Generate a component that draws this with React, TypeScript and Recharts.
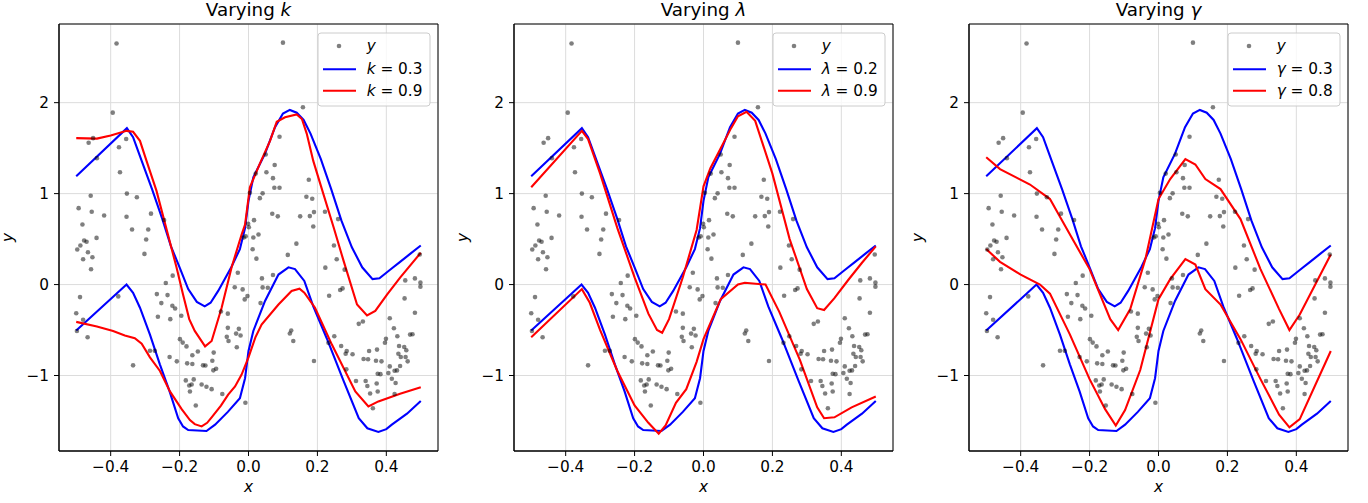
import React from 'react';
import {
  ComposedChart,
  Scatter,
  Line,
  XAxis,
  YAxis,
  CartesianGrid,
  ReferenceArea,
} from 'recharts';

// axis ticks
const X_TICKS = [-0.4, -0.2, 0, 0.2, 0.4];
const Y_TICKS = [-1, 0, 1, 2];
const X_DOMAIN = [-0.55, 0.55];
const Y_DOMAIN = [-1.83, 2.865];

// observed samples (x, y) - same in every panel
const samples: [number, number][] = [
  [-0.383, 2.65], [-0.394, 1.89], [-0.451, 1.61], [-0.464, 1.56], [-0.44, 1.39],
  [-0.376, 1.51], [-0.355, 1.6], [-0.373, 1.235], [-0.458, 0.977], [-0.493, 0.84],
  [-0.455, 0.8], [-0.419, 0.76], [-0.353, 1.0], [-0.324, 0.96], [-0.283, 0.78],
  [-0.354, 0.745], [-0.245, 0.71], [-0.482, 0.66], [-0.338, 0.606], [-0.291, 0.606],
  [-0.441, 0.513], [-0.477, 0.485], [-0.47, 0.47], [-0.488, 0.43], [-0.497, 0.385],
  [-0.466, 0.355], [-0.453, 0.3], [-0.48, 0.278], [-0.457, 0.168], [-0.297, 0.495],
  [-0.302, 0.337], [-0.378, -0.13], [-0.489, -0.138], [-0.5, -0.315], [-0.48, -0.387],
  [-0.498, -0.51], [-0.467, -0.58], [-0.335, -0.888], [-0.286, -0.727], [-0.272, -0.727],
  [-0.22, 0.098], [-0.24, 0.017], [-0.266, -0.105], [-0.235, -0.116], [-0.253, -0.204],
  [-0.221, -0.233], [-0.213, -0.263], [-0.263, -0.354], [-0.227, -0.38], [-0.195, -0.343],
  [-0.199, -0.6], [-0.191, -0.638], [-0.18, -0.68], [-0.229, -0.796], [-0.208, -0.844],
  [-0.178, -0.866], [-0.182, -1.054], [-0.172, -1.11], [-0.17, -1.175], [0.001, 0.63],
  [-0.008, 0.53], [-0.014, 0.517], [0.014, 0.517], [0.029, 0.55], [0.012, 0.388],
  [0.023, 0.285], [-0.031, 0.13], [-0.04, -0.03], [-0.017, -0.053], [-0.003, -0.127],
  [-0.011, -0.163], [0.039, 0.068], [0.041, -0.031], [0.056, -0.035], [0.035, -0.204],
  [0.071, 0.105], [0.114, 0.326], [0.139, 0.45], [0.124, -0.505], [0.12, -0.538],
  [0.13, -0.62], [-0.08, -0.296], [-0.06, -0.32], [-0.06, -0.476], [-0.063, -0.575],
  [-0.058, -0.62], [-0.028, -0.487], [-0.036, -0.539], [-0.023, -0.56], [-0.034, -0.69],
  [-0.147, -0.736], [-0.163, -0.778], [-0.101, -0.748], [-0.163, -0.873], [-0.132, -0.888],
  [-0.125, -0.89], [-0.105, -0.837], [-0.102, -0.943], [-0.094, -0.925], [-0.159, -1.043],
  [-0.165, -1.098], [-0.136, -1.098], [-0.122, -1.124], [-0.107, -1.15], [-0.076, -1.204],
  [-0.153, -1.33], [-0.009, -1.3], [0.1, 2.66], [0.158, 1.95], [0.09, 1.625],
  [0.05, 1.43], [0.076, 1.315], [0.052, 1.235], [0.071, 1.17], [0.021, 1.22],
  [0.075, 1.065], [0.09, 1.065], [0.041, 1.003], [0.033, 0.95], [0.004, 1.01],
  [0.069, 0.778], [0.085, 0.75], [0.15, 0.75], [0.016, 0.708], [-0.001, 0.668],
  [0.175, 1.153], [0.168, 0.966], [0.185, 0.944], [0.178, 0.753], [0.19, 0.797],
  [0.222, 0.8], [0.26, 0.72], [0.188, 0.639], [0.248, 0.43], [0.256, 0.278],
  [0.223, 0.186], [0.279, 0.164], [0.234, -0.123], [0.266, -0.06], [0.273, -0.042],
  [0.32, -0.432], [0.332, -0.406], [0.19, -0.84], [0.232, -0.641], [0.249, -0.568],
  [0.269, -0.675], [0.285, -0.73], [0.282, -0.76], [0.302, -0.767], [0.334, -0.818],
  [0.347, -0.822], [0.35, -0.73], [0.373, -0.715], [0.37, -0.837], [0.386, -0.844],
  [0.284, -0.932], [0.312, -1.06], [0.34, -1.06], [0.345, -1.116], [0.353, -1.197],
  [0.372, -1.087], [0.375, -1.175], [0.375, -0.98], [0.383, -0.985], [0.361, -1.36],
  [0.41, -0.37], [0.399, -0.597], [0.396, -0.64], [0.422, -0.48], [0.432, -0.568],
  [0.437, -0.675], [0.435, -0.76], [0.442, -0.796], [0.452, -0.686], [0.458, -0.723],
  [0.456, -0.796], [0.462, -0.844], [0.41, -0.9], [0.406, -0.972], [0.424, -0.947],
  [0.431, -0.944], [0.44, -0.895], [0.416, -1.035], [0.427, -1.083], [0.424, -1.204],
  [0.455, 0.046], [0.483, 0.068], [0.499, 0.021], [0.499, -0.023], [0.453, -0.152],
  [0.483, -0.31], [0.469, -0.55], [0.476, -0.546], [0.497, 0.33],
];

// blue reference fit (same in all panels)
const blueUpper: [number, number][] = [
  [-0.5, 1.19], [-0.353, 1.72], [-0.335, 1.62], [-0.31, 1.36], [-0.28, 1.05], [-0.25, 0.72],
  [-0.225, 0.42], [-0.2, 0.19], [-0.175, -0.05], [-0.15, -0.19], [-0.127, -0.24], [-0.11, -0.2],
  [-0.088, -0.07], [-0.05, 0.19], [-0.025, 0.39], [-0.01, 0.62], [0.0, 0.92], [0.014, 1.18],
  [0.048, 1.44], [0.077, 1.73], [0.1, 1.88], [0.12, 1.92], [0.14, 1.89], [0.16, 1.81],
  [0.18, 1.66], [0.21, 1.38], [0.24, 1.05], [0.27, 0.7], [0.3, 0.41], [0.33, 0.19],
  [0.36, 0.06], [0.38, 0.07], [0.41, 0.16], [0.44, 0.25], [0.47, 0.34], [0.5, 0.43],
];
const blueLower: [number, number][] = [
  [-0.5, -0.505], [-0.354, 0.0], [-0.335, -0.09], [-0.315, -0.255], [-0.286, -0.55],
  [-0.257, -0.88], [-0.229, -1.175], [-0.204, -1.47], [-0.19, -1.56], [-0.175, -1.6],
  [-0.122, -1.61], [-0.097, -1.54], [-0.06, -1.4], [-0.025, -1.25], [-0.01, -1.03],
  [0.0, -0.73], [0.014, -0.51], [0.048, -0.18], [0.087, 0.11], [0.116, 0.19], [0.135, 0.17],
  [0.162, 0.04], [0.188, -0.24], [0.227, -0.59], [0.276, -1.06], [0.32, -1.47], [0.345, -1.58],
  [0.377, -1.62], [0.4, -1.59], [0.416, -1.54], [0.46, -1.42], [0.5, -1.28],
];

// k = 0.9
const redUpperK: [number, number][] = [
  [-0.5, 1.61], [-0.44, 1.605], [-0.4, 1.64], [-0.354, 1.69], [-0.335, 1.68], [-0.315, 1.58],
  [-0.296, 1.36], [-0.267, 1.03], [-0.238, 0.61], [-0.209, 0.19], [-0.19, -0.11], [-0.172, -0.38],
  [-0.156, -0.51], [-0.126, -0.68], [-0.107, -0.62], [-0.078, -0.255], [-0.049, 0.19],
  [-0.02, 0.55], [-0.01, 0.66], [0.004, 1.07], [0.033, 1.33], [0.0625, 1.58], [0.082, 1.79],
  [0.106, 1.84], [0.14, 1.87], [0.155, 1.82], [0.169, 1.66], [0.188, 1.36], [0.217, 1.0],
  [0.247, 0.63], [0.276, 0.26], [0.315, -0.22], [0.344, -0.34], [0.368, -0.29], [0.402, -0.11],
  [0.44, 0.076], [0.5, 0.35],
];
const redLowerK: [number, number][] = [
  [-0.5, -0.41], [-0.44, -0.46], [-0.393, -0.51], [-0.359, -0.56], [-0.33, -0.59], [-0.31, -0.65],
  [-0.286, -0.8], [-0.257, -0.95], [-0.228, -1.175], [-0.194, -1.37], [-0.17, -1.49],
  [-0.156, -1.535], [-0.136, -1.56], [-0.12, -1.52], [-0.107, -1.46], [-0.08, -1.33],
  [-0.059, -1.21], [-0.039, -1.12], [-0.02, -0.99], [0.0, -0.8], [0.02, -0.58], [0.038, -0.44],
  [0.087, -0.22], [0.125, -0.07], [0.148, -0.045], [0.162, -0.09], [0.193, -0.255],
  [0.242, -0.66], [0.31, -1.175], [0.348, -1.34], [0.377, -1.285], [0.44, -1.2], [0.5, -1.13],
];

// lambda = 0.9
const redUpperLam: [number, number][] = [
  [-0.5, 1.07], [-0.353, 1.69], [-0.335, 1.6], [-0.3, 1.22], [-0.25, 0.62], [-0.2, 0.08],
  [-0.16, -0.32], [-0.135, -0.5], [-0.12, -0.53], [-0.1, -0.38], [-0.06, 0.08], [-0.02, 0.6],
  [0.0, 1.08], [0.02, 1.28], [0.05, 1.5], [0.08, 1.72], [0.1, 1.85], [0.125, 1.9],
  [0.15, 1.8], [0.2, 1.22], [0.25, 0.5], [0.3, -0.05], [0.33, -0.26], [0.35, -0.28],
  [0.38, -0.15], [0.42, 0.05], [0.46, 0.24], [0.5, 0.42],
];
const redLowerLam: [number, number][] = [
  [-0.5, -0.58], [-0.353, -0.05], [-0.33, -0.2], [-0.3, -0.5], [-0.25, -0.95], [-0.2, -1.33],
  [-0.16, -1.52], [-0.13, -1.64], [-0.11, -1.55], [-0.08, -1.3], [-0.05, -1.15], [-0.02, -0.85],
  [0.0, -0.6], [0.05, -0.16], [0.1, 0.0], [0.12, 0.02], [0.18, 0.0], [0.22, -0.3],
  [0.28, -0.83], [0.33, -1.35], [0.35, -1.47], [0.38, -1.46], [0.43, -1.35], [0.5, -1.23],
];

// gamma = 0.8
const redUpperGam: [number, number][] = [
  [-0.5, 1.4], [-0.46, 1.27], [-0.373, 1.1], [-0.315, 0.94], [-0.257, 0.55], [-0.2, 0.17],
  [-0.14, -0.38], [-0.117, -0.5], [-0.082, -0.27], [-0.038, 0.28], [0.0, 0.94], [0.034, 1.16],
  [0.078, 1.38], [0.107, 1.32], [0.136, 1.16], [0.18, 1.05], [0.238, 0.72], [0.296, 0.17],
  [0.35, -0.27], [0.38, -0.5], [0.41, -0.33], [0.5, 0.33],
];
const redLowerGam: [number, number][] = [
  [-0.5, 0.39], [-0.46, 0.25], [-0.4, 0.11], [-0.344, 0.0], [-0.315, -0.1], [-0.257, -0.55],
  [-0.2, -1.04], [-0.155, -1.37], [-0.124, -1.55], [-0.097, -1.38], [-0.053, -0.94], [0.0, -0.16],
  [0.034, 0.06], [0.078, 0.28], [0.107, 0.22], [0.136, -0.05], [0.18, -0.22], [0.238, -0.6],
  [0.296, -1.04], [0.35, -1.43], [0.38, -1.57], [0.41, -1.48], [0.5, -0.73],
];

const toXY = (pts: [number, number][]) => pts.map(([x, y]) => ({ x, y }));
const scatterData = toXY(samples);

const FONT = 'DejaVu Sans';
const PLOT_W = 379;
const PLOT_TOP = 24;
const PLOT_H = 427;
const Y_AXIS_W = 59;

const fmtX = (v: number) => (v < 0 ? '\u2212' + Math.abs(v).toFixed(1) : v.toFixed(1));
const fmtY = (v: number) => (v < 0 ? '\u2212' + Math.abs(v) : String(v));

const tickStyle = { fontSize: 15.3, fill: '#000', fontFamily: FONT };

const Dot = (props: any) => (
  <circle cx={props.cx} cy={props.cy} r={2.3} fill="#000" fillOpacity={0.5} />
);

const panels = [
  { sym: 'k', lo: '0.3', hi: '0.9', upper: redUpperK, lower: redLowerK, left: 59 },
  { sym: '\u03bb', lo: '0.2', hi: '0.9', upper: redUpperLam, lower: redLowerLam, left: 514 },
  { sym: '\u03b3', lo: '0.3', hi: '0.8', upper: redUpperGam, lower: redLowerGam, left: 969 },
];

function Panel({ left, upper, lower }: { left: number; upper: [number, number][]; lower: [number, number][] }) {
  return (
    <div style={{ position: 'absolute', left: left - Y_AXIS_W, top: 0 }}>
      <ComposedChart
        width={Y_AXIS_W + PLOT_W + 10}
        height={503}
        margin={{ top: PLOT_TOP, right: 10, bottom: 0, left: 0 }}
      >
        <CartesianGrid stroke="#dcdcdc" strokeWidth={1} />
        <XAxis
          type="number"
          dataKey="x"
          domain={X_DOMAIN}
          ticks={X_TICKS}
          tickFormatter={fmtX}
          allowDataOverflow
          height={503 - PLOT_TOP - PLOT_H}
          tickSize={5}
          tickMargin={5}
          tick={tickStyle}
          stroke="#000"
        />
        <YAxis
          type="number"
          dataKey="y"
          domain={Y_DOMAIN}
          ticks={Y_TICKS}
          tickFormatter={fmtY}
          allowDataOverflow
          width={Y_AXIS_W}
          tickSize={5}
          tickMargin={5}
          tick={tickStyle}
          stroke="#000"
        />
        <Scatter data={scatterData} dataKey="y" shape={Dot} isAnimationActive={false} />
        <Line data={toXY(blueUpper)} dataKey="y" type="linear" stroke="#0000ff" strokeWidth={2.1} dot={false} isAnimationActive={false} />
        <Line data={toXY(blueLower)} dataKey="y" type="linear" stroke="#0000ff" strokeWidth={2.1} dot={false} isAnimationActive={false} />
        <Line data={toXY(upper)} dataKey="y" type="linear" stroke="#ff0000" strokeWidth={2.1} dot={false} isAnimationActive={false} />
        <Line data={toXY(lower)} dataKey="y" type="linear" stroke="#ff0000" strokeWidth={2.1} dot={false} isAnimationActive={false} />
        <ReferenceArea
          x1={X_DOMAIN[0]}
          x2={X_DOMAIN[1]}
          y1={Y_DOMAIN[0]}
          y2={Y_DOMAIN[1]}
          fill="none"
          stroke="#000"
          strokeWidth={1}
          ifOverflow="visible"
        />
      </ComposedChart>
    </div>
  );
}

function Labels() {
  return (
    <svg
      width={1368}
      height={503}
      style={{ position: 'absolute', left: 0, top: 0, pointerEvents: 'none' }}
      fontFamily={FONT}
    >
      {panels.map((p) => {
        const cx = p.left + PLOT_W / 2;
        const lx = p.left + PLOT_W - 8 - 112;
        const ly = 33;
        return (
          <g key={p.left}>
            <text x={cx} y={16} textAnchor="middle" fontSize={18.3}>
              Varying <tspan fontStyle="italic">{p.sym}</tspan>
            </text>
            <text x={cx} y={492} textAnchor="middle" fontSize={15.3} fontStyle="italic">x</text>
            <text
              x={p.left - 46}
              y={PLOT_TOP + PLOT_H / 2}
              textAnchor="middle"
              fontSize={15.3}
              fontStyle="italic"
              transform={`rotate(-90 ${p.left - 46} ${PLOT_TOP + PLOT_H / 2})`}
            >
              y
            </text>
            <rect x={lx} y={ly} width={112} height={73} rx={3} fill="#fff" fillOpacity={0.8} stroke="#cccccc" strokeWidth={1} />
            <circle cx={lx + 21} cy={ly + 13} r={2.3} fill="#000" fillOpacity={0.5} />
            <text x={lx + 48.7} y={ly + 18} fontSize={15.3} fontStyle="italic">y</text>
            <line x1={lx + 5} x2={lx + 38} y1={ly + 36.3} y2={ly + 36.3} stroke="#0000ff" strokeWidth={2.1} />
            <text x={lx + 48.7} y={ly + 41} fontSize={15.3}>
              <tspan fontStyle="italic">{p.sym}</tspan> = {p.lo}
            </text>
            <line x1={lx + 5} x2={lx + 38} y1={ly + 57.7} y2={ly + 57.7} stroke="#ff0000" strokeWidth={2.1} />
            <text x={lx + 48.7} y={ly + 63} fontSize={15.3}>
              <tspan fontStyle="italic">{p.sym}</tspan> = {p.hi}
            </text>
          </g>
        );
      })}
    </svg>
  );
}

export default function App() {
  return (
    <div style={{ position: 'absolute', left: 0, top: 0, width: 1368, height: 503, background: '#fff' }}>
      {panels.map((p) => (
        <Panel key={p.left} left={p.left} upper={p.upper} lower={p.lower} />
      ))}
      <Labels />
    </div>
  );
}
